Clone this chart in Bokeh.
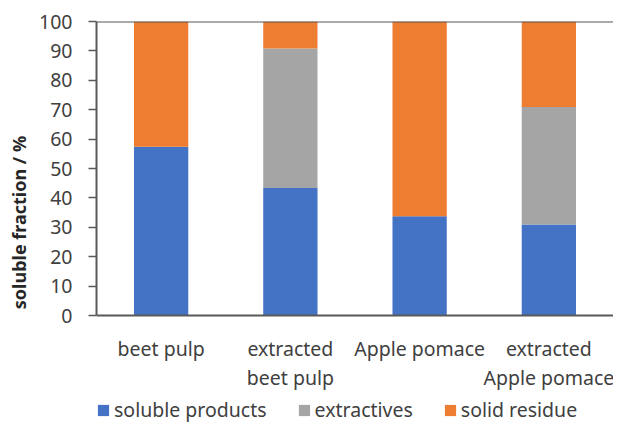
from bokeh.plotting import figure
from bokeh.models import (ColumnDataSource, FactorRange, Range1d, FixedTicker,
                          Legend, LegendItem, Span)
from bokeh.core.properties import value
from bokeh.embed import file_html
from bokeh.resources import INLINE

categories = ["beet pulp", "extracted\nbeet pulp", "Apple pomace", "extracted\nApple pomace"]
series = ["soluble products", "extractives", "solid residue"]
soluble_products = [57.4, 43.4, 33.8, 31.0]
extractives = [0.0, 47.4, 0.0, 39.9]
solid_residue = [42.6, 9.2, 66.2, 29.1]
y_ticks = [0, 10, 20, 30, 40, 50, 60, 70, 80, 90, 100]
colors = ["#4472C4", "#A5A5A5", "#ED7D31"]

FONT = "Noto Sans"
TXT = "#404040"
FS = "19.5px"
AXC = "#595959"

source = ColumnDataSource(data={
    "cat": categories,
    "soluble products": soluble_products,
    "extractives": extractives,
    "solid residue": solid_residue,
})

# the frame extends below y=0 so that category labels and legend sit inside it
p = figure(x_range=FactorRange(*categories), y_range=Range1d(-36.7, 100),
           width=613, height=423, output_backend="svg", toolbar_location=None,
           x_axis_location=None,
           min_border_left=96, min_border_right=0, min_border_top=21,
           min_border_bottom=0)

renderers = p.vbar_stack(series, x="cat", width=0.42, source=source,
                         color=colors, line_color=None)

p.outline_line_color = None
p.xgrid.grid_line_color = None
p.ygrid.grid_line_color = None
p.background_fill_color = "white"
p.border_fill_color = "white"

# category axis line, top border line, faint right edge
p.add_layout(Span(location=0, dimension="width", line_color=AXC, line_width=2))
p.add_layout(Span(location=100, dimension="width", line_color=AXC, line_width=2))
p.add_layout(Span(location=4, dimension="height", line_color="#D9D9D9", line_width=1))

# category labels
p.text(x="cat", y=0, text="cat", source=source, text_font=value(FONT),
       text_font_size=value(FS), text_color=TXT, text_align="center",
       text_baseline="top", y_offset=19, text_line_height=1.1)

ya = p.yaxis[0]
ya.bounds = (0, 100)
ya.ticker = FixedTicker(ticks=y_ticks)
ya.axis_line_color = AXC
ya.axis_line_width = 2
ya.major_tick_line_color = AXC
ya.major_tick_line_width = 1.5
ya.major_tick_out = 8
ya.major_tick_in = 0
ya.minor_tick_line_color = None
ya.major_label_text_font = FONT
ya.major_label_text_font_size = FS
ya.major_label_text_color = TXT
ya.major_label_standoff = 16
ya.axis_label = "soluble fraction / %"
ya.axis_label_text_font = FONT
ya.axis_label_text_font_style = "bold"
ya.axis_label_text_font_size = "18px"
ya.axis_label_text_color = "#262626"
ya.axis_label_standoff = 5

legend = Legend(items=[LegendItem(label=s, renderers=[r]) for s, r in zip(series, renderers)],
                orientation="horizontal", location=(0, 0))
legend.label_text_font = FONT
legend.label_text_font_size = FS
legend.label_text_color = TXT
legend.glyph_width = 14
legend.glyph_height = 14
legend.label_standoff = 4
legend.spacing = 30
legend.padding = 0
legend.margin = 0
legend.border_line_color = None
legend.background_fill_alpha = 0
p.add_layout(legend)

open("out.html", "w").write(file_html(p, INLINE))
